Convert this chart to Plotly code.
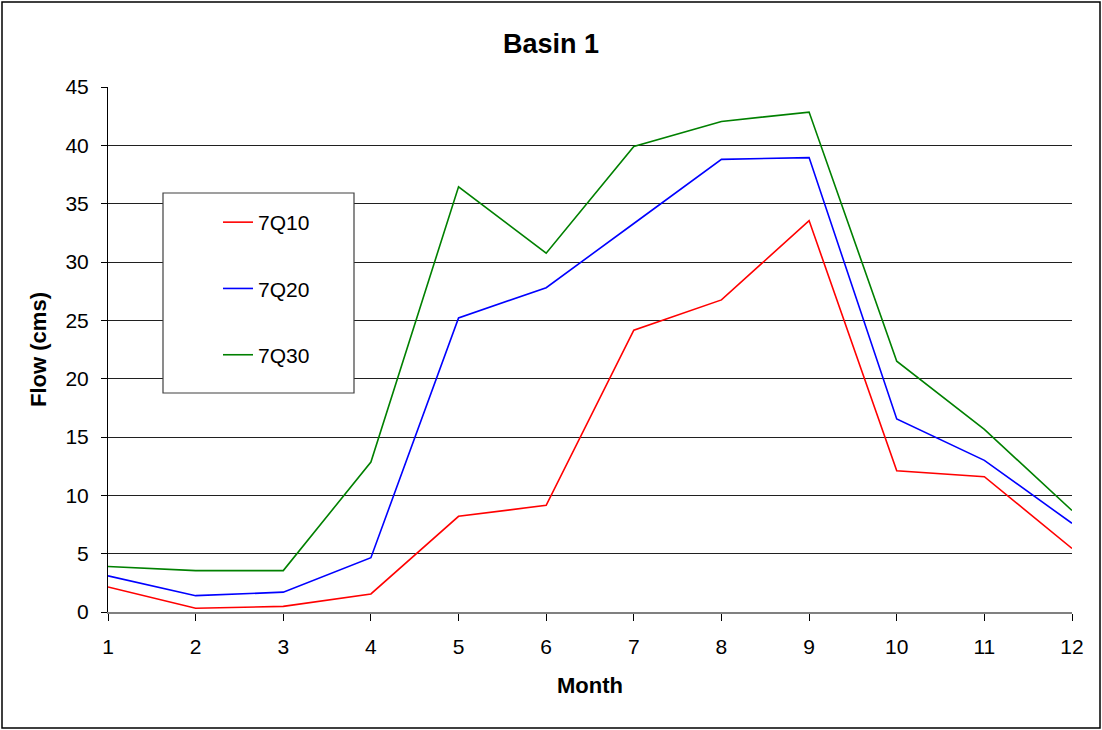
import plotly.graph_objects as go

months = [1, 2, 3, 4, 5, 6, 7, 8, 9, 10, 11, 12]
q7_10 = [2.15, 0.32, 0.48, 1.55, 8.2, 9.15, 24.15, 26.75, 33.55, 12.1, 11.6, 5.45]
q7_20 = [3.1, 1.4, 1.7, 4.65, 25.2, 27.8, 33.3, 38.8, 38.95, 16.55, 13.0, 7.6]
q7_30 = [3.9, 3.55, 3.55, 12.85, 36.45, 30.75, 39.9, 42.05, 42.85, 21.5, 15.65, 8.7]
series_names = ["7Q10", "7Q20", "7Q30"]
series_colors = ["#FF0000", "#0000FF", "#008000"]

W, H = 1102, 730
L, R, T, B = 108, 1072, 87, 612


def px(x):
    return (x - L) / (R - L)


def py(y):
    return (B - y) / (B - T)


fig = go.Figure()
for name, vals, col in zip(series_names, [q7_10, q7_20, q7_30], series_colors):
    fig.add_trace(go.Scatter(x=months, y=vals, mode="lines", name=name,
                             legendgroup=name,
                             line=dict(color=col, width=1.6)))

font = "Liberation Sans, Arial, sans-serif"
fig.update_layout(
    width=W, height=H,
    margin=dict(l=L, r=W - R, t=T, b=H - B),
    paper_bgcolor="white", plot_bgcolor="white",
    font=dict(family=font, size=21, color="black"),
    title=dict(text="<b>Basin 1</b>", x=0.5, xref="container", xanchor="center",
               y=1 - 44 / H, yref="container", yanchor="middle",
               font=dict(size=27, family=font, color="black")),
    showlegend=True,
    legend=dict(x=px(218), y=py(202), xanchor="left", yanchor="top",
                bgcolor="rgba(0,0,0,0)", borderwidth=0,
                tracegroupgap=36, font=dict(size=21, family=font)),
    xaxis=dict(range=[1, 12], tickmode="array", tickvals=months,
               ticktext=[str(m) for m in months],
               showgrid=False, zeroline=False, showline=True,
               linecolor="#808080", linewidth=2,
               ticks="outside", ticklen=7, tickcolor="black", tickwidth=1,
               ticklabelstandoff=8,
               title=dict(text="<b>Month</b>", standoff=20,
                          font=dict(size=22, family=font))),
    yaxis=dict(range=[0, 45], tickmode="linear", tick0=0, dtick=5,
               showgrid=True, gridcolor="#202020", gridwidth=1,
               zeroline=False, showline=True, linecolor="black", linewidth=1,
               ticks="outside", ticklen=6, tickcolor="black", tickwidth=1,
               ticklabelstandoff=8,
               title=dict(text="<b>Flow (cms)</b>", standoff=12,
                          font=dict(size=22, family=font))),
    shapes=[
        dict(type="rect", xref="paper", yref="paper",
             x0=px(2), x1=px(1100), y0=py(728), y1=py(2),
             line=dict(color="black", width=1.5), fillcolor="rgba(0,0,0,0)",
             layer="below"),
        dict(type="rect", xref="paper", yref="paper",
             x0=px(163), x1=px(354), y0=py(393), y1=py(193),
             line=dict(color="#404040", width=1.2), fillcolor="white",
             layer="above"),
    ],
)

fig.write_html("out.html")
